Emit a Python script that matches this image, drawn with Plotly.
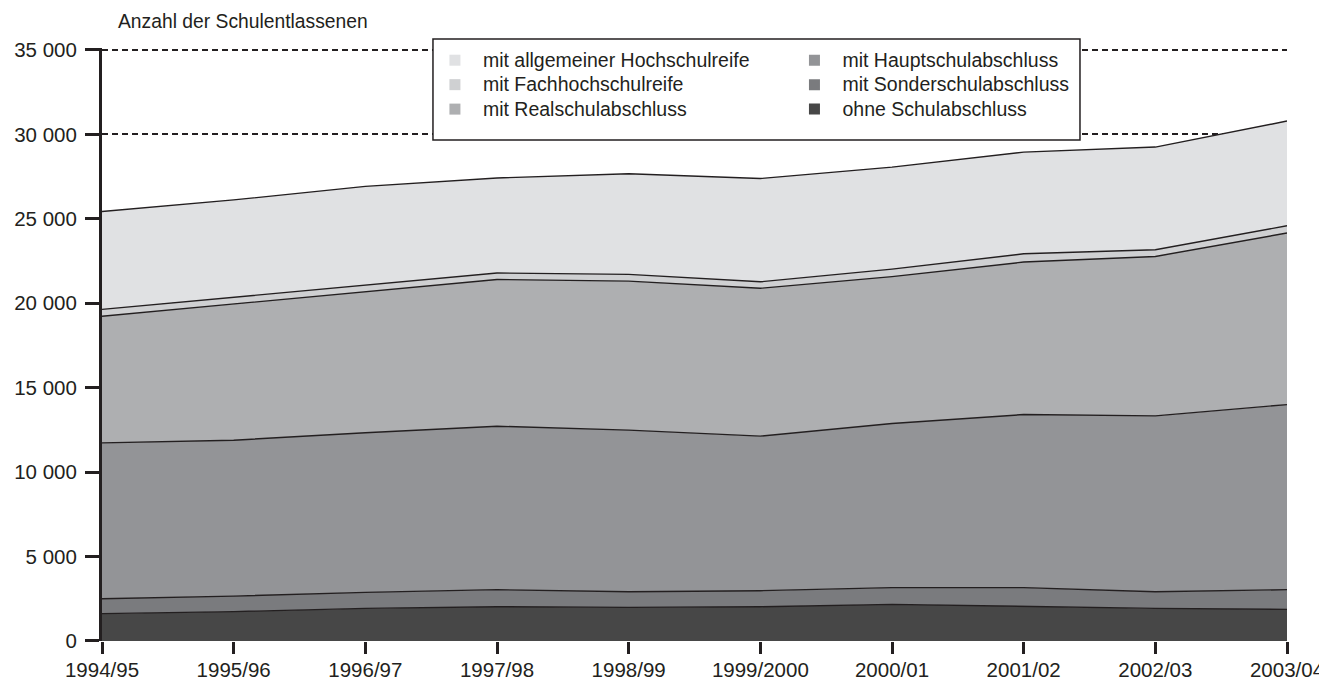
"""Schulentlassene nach Abschlussart - gestapeltes Flächendiagramm"""

import plotly.graph_objects as go

JAHRE = [
    "1994/95", "1995/96", "1996/97", "1997/98", "1998/99",
    "1999/2000", "2000/01", "2001/02", "2002/03", "2003/04",
]

# Werte je Abschlussart (von unten nach oben gestapelt)
OHNE_ABSCHLUSS = [1620, 1740, 1930, 2030, 1990, 2030, 2170, 2030, 1930, 1870]
SONDERSCHULE = [880, 920, 950, 1010, 930, 950, 990, 1130, 990, 1170]
HAUPTSCHULE = [9230, 9230, 9450, 9680, 9570, 9150, 9720, 10250, 10410, 10960]
REALSCHULE = [7500, 8070, 8330, 8690, 8820, 8760, 8700, 9030, 9440, 10160]
FACHHOCHSCHULREIFE = [410, 400, 390, 380, 400, 380, 440, 490, 400, 430]
HOCHSCHULREIFE = [5790, 5760, 5870, 5630, 5960, 6120, 6040, 6020, 6080, 6200]

Y_TICKS = [0, 5000, 10000, 15000, 20000, 25000, 30000, 35000]
Y_TICK_TEXT = ["0", "5 000", "10 000", "15 000", "20 000", "25 000", "30 000", "35 000"]

FONT = "Liberation Sans, Arial, sans-serif"
LINIE = "#231f20"
TEXT = "#231f20"


def create_area_chart() -> go.Figure:
    """Gestapelte Flächen plus zweispaltige Legende"""
    fig = go.Figure()

    serien = [
        ("ohne Schulabschluss", OHNE_ABSCHLUSS, "#474747"),
        ("mit Sonderschulabschluss", SONDERSCHULE, "#7a7b7e"),
        ("mit Hauptschulabschluss", HAUPTSCHULE, "#939497"),
        ("mit Realschulabschluss", REALSCHULE, "#aeafb1"),
        ("mit Fachhochschulreife", FACHHOCHSCHULREIFE, "#cfd0d2"),
        ("mit allgemeiner Hochschulreife", HOCHSCHULREIFE, "#e0e1e3"),
    ]

    # Flächen
    for name, werte, farbe in serien:
        fig.add_trace(
            go.Scatter(
                x=JAHRE,
                y=werte,
                name=name,
                mode="lines",
                stackgroup="one",
                fillcolor=farbe,
                line=dict(color=LINIE, width=1.4),
                showlegend=False,
            )
        )

    # Legendeneinträge als kleine Quadrate (Spalte 1 / Spalte 2)
    spalten = {
        "legend": ["mit allgemeiner Hochschulreife", "mit Fachhochschulreife", "mit Realschulabschluss"],
        "legend2": ["mit Hauptschulabschluss", "mit Sonderschulabschluss", "ohne Schulabschluss"],
    }
    farben = {name: farbe for name, _, farbe in serien}
    for legende, namen in spalten.items():
        for name in namen:
            fig.add_trace(
                go.Scatter(
                    x=[None],
                    y=[None],
                    # größere Schrift im Text, engerer Zeilenabstand über legend.font
                    name=f'<span style="font-size:19.5px">{name}</span>',
                    mode="markers",
                    marker=dict(symbol="square", size=11, color=farben[name]),
                    legend=legende,
                )
            )

    legende_stil = dict(
        bgcolor="rgba(0,0,0,0)",
        borderwidth=0,
        font=dict(family=FONT, size=16.5, color=TEXT),
        xanchor="left",
        yanchor="top",
        y=0.9599,
        traceorder="normal",
        itemwidth=46,
    )

    # Seite hat 8px Rand -> Figur 1319x676
    fig.update_layout(
        width=1319,
        height=676,
        margin=dict(l=94, r=40, t=10, b=43),
        plot_bgcolor="white",
        paper_bgcolor="white",
        font=dict(family=FONT, size=19, color=TEXT),
        hovermode="x unified",
        legend=dict(x=0.2742, **legende_stil),
        legend2=dict(x=0.5776, **legende_stil),
        shapes=[
            # Rahmen der Legende
            dict(
                type="rect",
                xref="paper",
                yref="paper",
                x0=0.2793,
                x1=0.8253,
                y0=0.8042,
                y1=0.9663,
                fillcolor="white",
                line=dict(color=LINIE, width=1.5),
                layer="above",
            )
        ],
        annotations=[
            dict(
                text="Anzahl der Schulentlassenen",
                xref="paper",
                yref="paper",
                x=0.0118,
                y=0.9936,
                xanchor="left",
                yanchor="middle",
                showarrow=False,
                font=dict(family=FONT, size=19.3, color=TEXT),
            )
        ],
    )

    fig.update_xaxes(
        type="category",
        range=[0, len(JAHRE) - 1],
        automargin=False,
        showgrid=False,
        showline=False,
        zeroline=False,
        ticks="outside",
        ticklen=12,
        tickwidth=3,
        tickcolor=LINIE,
        ticklabelstandoff=-2,
        tickfont=dict(family=FONT, size=20.5, color=TEXT),
    )

    fig.update_layout(
        yaxis=dict(
            domain=[0, 0.9514],
            range=[0, 35100],
            automargin=False,
            tickvals=Y_TICKS,
            ticktext=Y_TICK_TEXT,
            showline=True,
            linecolor=LINIE,
            linewidth=3,
            ticks="outside",
            ticklen=14,
            tickwidth=3,
            tickcolor=LINIE,
            ticklabelstandoff=4,
            tickfont=dict(family=FONT, size=20.5, color=TEXT),
            showgrid=True,
            gridcolor=LINIE,
            gridwidth=2,
            griddash="6px,4px",
            zeroline=False,
        ),
        # kurze Striche am rechten Rand
        yaxis2=dict(
            overlaying="y",
            anchor="x",
            side="right",
            domain=[0, 0.9514],
            range=[0, 35100],
            automargin=False,
            tickvals=Y_TICKS,
            showticklabels=False,
            showgrid=False,
            showline=False,
            zeroline=False,
            ticks="outside",
            ticklen=5,
            tickwidth=2.5,
            tickcolor=LINIE,
        ),
    )

    return fig


if __name__ == "__main__":
    fig = create_area_chart()
    fig.write_html("out.html")
